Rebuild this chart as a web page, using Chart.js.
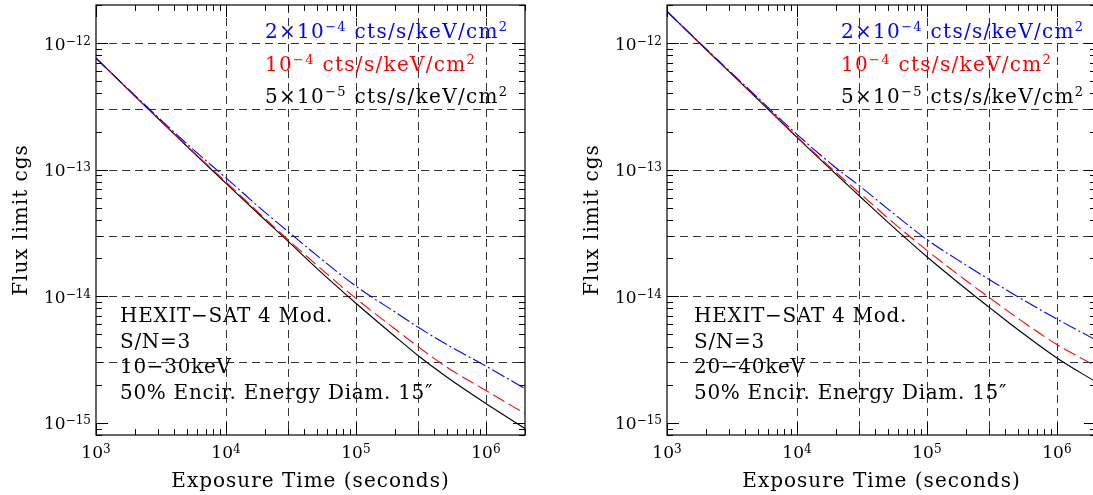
<!DOCTYPE html>
<html>
<head>
<meta charset="utf-8">
<script src="https://cdn.jsdelivr.net/npm/chart.js@4.4.1/dist/chart.umd.min.js"></script>
<style>
  html, body { margin: 0; padding: 0; background: #fff; overflow: hidden; width: 1093px; height: 495px; }
  .panel { position: absolute; top: 0; height: 495px; }
  #leftBox { left: 0; width: 546px; }
  #rightBox { left: 546px; width: 560px; }
</style>
</head>
<body>
<div class="panel" id="leftBox"><canvas id="leftChart" width="546" height="495"></canvas></div>
<div class="panel" id="rightBox"><canvas id="rightChart" width="560" height="495"></canvas></div>
<script>
  // exposure time (s)
  const times = [1e3, 2e3, 5e3, 1e4, 2e4, 3e4, 5e4, 1e5, 2e5, 3e5, 5e5, 1e6, 2e6];

  // 10-30 keV panel
  const leftBlue  = [7.6e-13, 3.85e-13, 1.6e-13, 8.6e-14, 4.6e-14, 3.25e-14, 2.1e-14, 1.2e-14, 7.5e-15, 5.7e-15, 4.15e-15, 2.8e-15, 1.86e-15];
  const leftRed   = [7.6e-13, 3.8e-13, 1.54e-13, 8.0e-14, 4.1e-14, 2.8e-14, 1.76e-14, 9.6e-15, 5.5e-15, 4.0e-15, 2.75e-15, 1.8e-15, 1.18e-15];
  const leftBlack = [7.6e-13, 3.8e-13, 1.53e-13, 7.8e-14, 4.0e-14, 2.72e-14, 1.66e-14, 8.8e-15, 4.8e-15, 3.4e-15, 2.3e-15, 1.42e-15, 9.0e-16];

  // 20-40 keV panel
  const rightBlue  = [1.78e-12, 9.0e-13, 3.7e-13, 1.9e-13, 1.03e-13, 7.5e-14, 4.9e-14, 2.8e-14, 1.76e-14, 1.36e-14, 9.9e-15, 6.6e-15, 4.5e-15];
  const rightRed   = [1.78e-12, 8.9e-13, 3.62e-13, 1.82e-13, 9.5e-14, 6.6e-14, 4.15e-14, 2.3e-14, 1.33e-14, 9.8e-15, 6.7e-15, 4.15e-15, 2.8e-15];
  const rightBlack = [1.78e-12, 8.9e-13, 3.6e-13, 1.8e-13, 9.2e-14, 6.25e-14, 3.85e-14, 2.05e-14, 1.14e-14, 8.2e-15, 5.45e-15, 3.25e-15, 2.1e-15];

  const xTickPowers = [3, 4, 5, 6];
  const yTickPowers = [-12, -13, -14, -15];
  const xGridVals = [1e4, 3e4, 1e5, 3e5, 1e6];
  const yGridVals = [1e-12, 3e-13, 1e-13, 3e-14, 1e-14, 3e-15];

  const legendLabels = [
    [['2×10'], ['−4', 1], [' cts/s/keV/cm'], ['2', 1]],
    [['10'], ['−4', 1], [' cts/s/keV/cm'], ['2', 1]],
    [['5×10'], ['−5', 1], [' cts/s/keV/cm'], ['2', 1]]
  ];
  const legendColors = ['#0000ff', '#ff0000', '#000000'];
  const leftNotes = ['HEXIT−SAT 4 Mod.', 'S/N=3', '10−30keV', '50% Encir. Energy Diam. 15″'];
  const rightNotes = ['HEXIT−SAT 4 Mod.', 'S/N=3', '20−40keV', '50% Encir. Energy Diam. 15″'];

  const FONT = '"DejaVu Serif", serif';

  // draws text with superscript pieces, returns width
  function richText(ctx, parts, x, y, size, supSize, raise, draw) {
    let cx = x;
    parts.forEach(([t, sup]) => {
      ctx.font = (sup ? supSize : size) + 'px ' + FONT;
      if (draw) ctx.fillText(t, cx, sup ? y - raise : y);
      cx += ctx.measureText(t).width;
    });
    return cx - x;
  }

  function powLabel(ctx, exp, x, y, align) {
    const parts = [['10'], [String(exp).replace('-', '−'), 1]];
    ctx.letterSpacing = '0px';
    const w = richText(ctx, parts, 0, 0, 17, 12, 5, false);
    let sx = x;
    if (align === 'center') sx = x - w / 2;
    if (align === 'right') sx = x - w;
    richText(ctx, parts, sx, y, 17, 12, 5, true);
  }

  const panelDecor = {
    id: 'panelDecor',
    beforeDatasetsDraw(chart) {
      const { ctx, chartArea: a, scales: { x, y } } = chart;
      ctx.save();
      ctx.strokeStyle = '#333';
      ctx.lineWidth = 1;
      ctx.setLineDash([8, 5]);
      ctx.beginPath();
      xGridVals.forEach(v => {
        const px = Math.round(x.getPixelForValue(v)) + 0.5;
        ctx.moveTo(px, a.top); ctx.lineTo(px, a.bottom);
      });
      yGridVals.forEach(v => {
        const py = Math.round(y.getPixelForValue(v)) + 0.5;
        ctx.moveTo(a.left, py); ctx.lineTo(a.right, py);
      });
      ctx.stroke();
      ctx.restore();
    },
    afterDraw(chart, args, opts) {
      const { ctx, chartArea: a, scales: { x, y } } = chart;
      ctx.save();
      ctx.strokeStyle = '#000';
      ctx.lineWidth = 1;
      ctx.setLineDash([]);
      ctx.beginPath();
      // inward ticks on all four sides
      for (let e = 3; e <= 6; e++) {
        for (let m = 1; m <= 9; m++) {
          const v = m * Math.pow(10, e);
          if (v < x.min || v > x.max) continue;
          const px = Math.round(x.getPixelForValue(v)) + 0.5;
          const len = m === 1 ? 12 : 6;
          ctx.moveTo(px, a.bottom); ctx.lineTo(px, a.bottom - len);
          ctx.moveTo(px, a.top); ctx.lineTo(px, a.top + len);
        }
      }
      for (let e = -16; e <= -12; e++) {
        for (let m = 1; m <= 9; m++) {
          const v = m * Math.pow(10, e);
          if (v < y.min || v > y.max) continue;
          const py = Math.round(y.getPixelForValue(v)) + 0.5;
          const len = m === 1 ? 12 : 6;
          ctx.moveTo(a.left, py); ctx.lineTo(a.left + len, py);
          ctx.moveTo(a.right, py); ctx.lineTo(a.right - len, py);
        }
      }
      ctx.stroke();
      ctx.lineWidth = 1.2;
      ctx.strokeRect(a.left, a.top, a.right - a.left, a.bottom - a.top);

      // tick labels
      ctx.fillStyle = '#000';
      ctx.textBaseline = 'alphabetic';
      ctx.textAlign = 'left';
      xTickPowers.forEach(p => powLabel(ctx, p, x.getPixelForValue(Math.pow(10, p)), a.bottom + 23, 'center'));
      yTickPowers.forEach(p => powLabel(ctx, p, a.left - 5, y.getPixelForValue(Math.pow(10, p)) + 6.5, 'right'));

      // axis titles
      ctx.font = '20px ' + FONT;
      ctx.letterSpacing = '1px';
      ctx.textAlign = 'center';
      ctx.fillText('Exposure Time (seconds)', (a.left + a.right) / 2, 487);
      ctx.save();
      ctx.translate(a.left - 69, (a.top + a.bottom) / 2);
      ctx.rotate(-Math.PI / 2);
      ctx.fillText('Flux limit cgs', 0, 0);
      ctx.restore();

      // legend lines of text
      ctx.textAlign = 'left';
      ctx.letterSpacing = '1.3px';
      legendLabels.forEach((parts, i) => {
        ctx.fillStyle = legendColors[i];
        richText(ctx, parts, a.left + opts.legendX, a.top + 33 + i * 32.5, 20, 13, 7, true);
      });

      // notes
      ctx.fillStyle = '#000';
      ctx.letterSpacing = '0.7px';
      ctx.font = '20px ' + FONT;
      opts.notes.forEach((t, i) => ctx.fillText(t, a.left + opts.noteX, 322 + i * 25.5));
      ctx.restore();
    }
  };

  function makePanel(canvasId, blue, red, black, pad, legendX, noteX, notes) {
    const pts = arr => times.map((t, i) => ({ x: t, y: arr[i] }));
    return new Chart(document.getElementById(canvasId), {
      type: 'line',
      data: {
        datasets: [
          { label: 'blue', data: pts(blue), borderColor: '#0000ff', borderDash: [14, 3, 2, 3] },
          { label: 'red', data: pts(red), borderColor: '#ff0000', borderDash: [13, 5] },
          { label: 'black', data: pts(black), borderColor: '#000000' }
        ]
      },
      options: {
        responsive: false,
        animation: false,
        layout: { padding: pad },
        elements: {
          point: { radius: 0 },
          line: { borderWidth: 1.1, cubicInterpolationMode: 'monotone' }
        },
        scales: {
          x: { type: 'logarithmic', min: 1e3, max: 2e6, display: false },
          y: { type: 'logarithmic', min: 8e-16, max: 2e-12, display: false }
        },
        plugins: {
          legend: { display: false },
          tooltip: { enabled: false },
          panelDecor: { legendX: legendX, noteX: noteX, notes: notes }
        }
      },
      plugins: [panelDecor]
    });
  }

  const leftChart = makePanel('leftChart', leftBlue, leftRed, leftBlack,
    { left: 96, right: 21, top: 5, bottom: 60 }, 169, 24, leftNotes);
  const rightChart = makePanel('rightChart', rightBlue, rightRed, rightBlack,
    { left: 121, right: 10, top: 5, bottom: 60 }, 174, 27, rightNotes);
</script>
</body>
</html>
